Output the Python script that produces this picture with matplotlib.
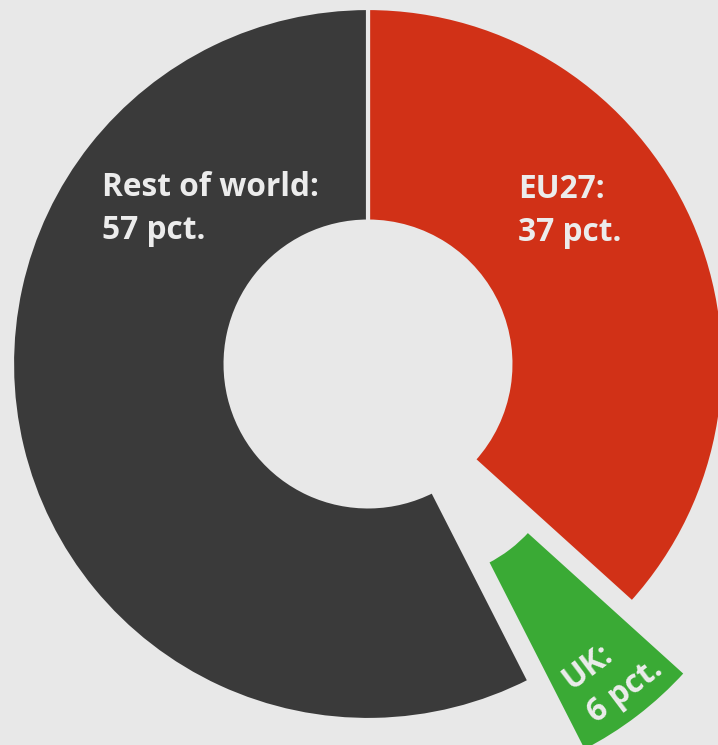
import matplotlib.pyplot as plt

labels = ['EU27', 'UK', 'Rest of world']
shares = [36.7, 5.8, 57.5]
colors = ['#d13117', '#3aaa35', '#3a3a3a']
explode = [0, 0.25, 0]

bg = '#e8e8e8'
txt = '#ececec'

W, H = 718, 745
cx, cy, R = 368, 364, 356


def px(x, y):
    # pixel position -> data coords (radius 1 = R px)
    return (x - cx) / R, (cy - y) / R


fig = plt.figure(figsize=(W / 100, H / 100), dpi=100, facecolor=bg)
ax = fig.add_axes([0, 0, 1, 1])
ax.set_facecolor(bg)

ax.pie(shares, colors=colors, explode=explode, startangle=90, counterclock=False,
       radius=1, wedgeprops=dict(width=0.6, edgecolor=bg, linewidth=3))

ax.set_aspect('auto')
ax.set_xlim(-cx / R, (W - cx) / R)
ax.set_ylim(-(H - cy) / R, cy / R)
ax.axis('off')

font = dict(family=['Open Sans', 'DejaVu Sans'], weight='bold', color=txt, fontsize=22.8)

# va='baseline' pins the last line's baseline
ax.text(*px(102, 239), 'Rest of world:\n57 pct.', ha='left', va='baseline',
        linespacing=1.42, **font)
ax.text(*px(518, 241), 'EU27:\n37 pct.', ha='left', va='baseline',
        linespacing=1.42, **font)
ax.text(*px(613, 674), 'UK:\n6 pct.', ha='center', va='center', rotation=37,
        rotation_mode='anchor', multialignment='left', linespacing=1.35, **font)

fig.savefig('out.png', dpi=100, facecolor=bg)
